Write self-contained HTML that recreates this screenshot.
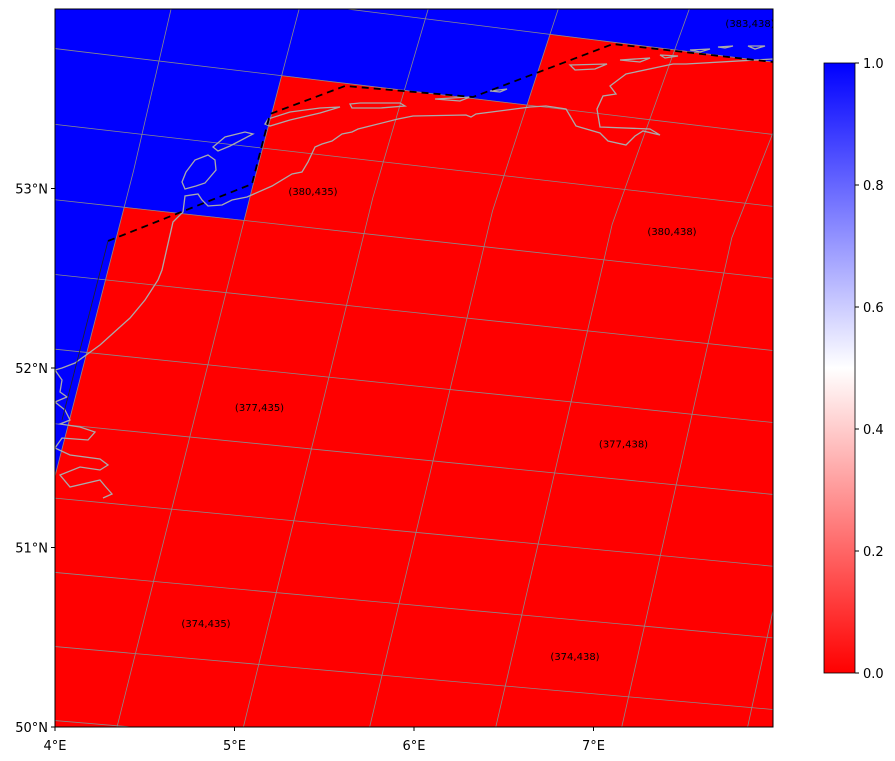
<!DOCTYPE html>
<html><head><meta charset="utf-8"><style>
html,body{margin:0;background:#fff;overflow:hidden;width:895px;height:761px;}
svg{display:block;font-family:"DejaVu Sans","Liberation Sans",sans-serif;}
</style></head><body>
<svg id="chart" width="895" height="761" viewBox="0 0 895 761">
<defs>
<clipPath id="plotclip"><rect x="55" y="9" width="718" height="718"/></clipPath>
<linearGradient id="cbgrad" x1="0" y1="1" x2="0" y2="0">
<stop offset="0" stop-color="#ff0000"/><stop offset="0.5" stop-color="#ffffff"/><stop offset="1" stop-color="#0000ff"/>
</linearGradient>
</defs>
<g id="plot" clip-path="url(#plotclip)">
<g id="cells"></g>
<g id="gridlines"></g>
<g id="coast" fill="none" stroke="#aaaaaa" stroke-width="1.3">
<path d="M55,370 L62,368 L75,363 L100,345 L130,318 L145,300 L158,280 L162,270 L167,248 L173,222 L183,212 L185,196 L198,194 L202,200 L208,206 L222,205 L232,200 L247,197 L272,186 L292,174 L302,172 L308,162 L315,147 L322,144 L332,141 L342,134 L352,132 L358,129 L398,119 L413,116 L466,115 L471,117 L476,114 L530,107 L546,106 L566,109 L576,126 L600,133 L608,141 L626,145 L635,136 L643,131 L660,135 L650,129 L600,127 L597,109 L603,96 L616,94 L610,86 L626,74 L673,64 L686,64 L773,59"/>
<path d="M55,370 L62,380 L60,392 L67,397 L55,402 L65,410 L70,420 L60,424 L80,427 L95,432 L88,440 L62,438 L55,448 L70,455 L100,459 L108,465 L100,470 L80,467 L60,475 L70,487 L100,480 L105,486 L112,494 L103,498"/>
<path d="M186,172 L195,160 L208,155 L215,160 L216,170 L205,183 L196,186 L185,189 L182,182 Z"/>
<path d="M213,147 L225,137 L245,132 L253,134 L230,146 L218,151 Z"/>
<path d="M265,124 L268,119 L290,112 L320,108 L340,107 L320,113 L290,120 L270,126 Z"/>
<path d="M350,104 L360,103 L400,103 L405,106 L380,108 L352,108 Z"/>
<path d="M435,99 L470,97 L460,101 Z M490,91 L507,89 L500,92 Z M570,65 L607,64 L595,69 L575,70 Z M620,60 L650,58 L640,62 Z M660,55 L678,56 L665,58 Z M690,50 L710,49 L700,52 Z M718,47 L733,46 L725,48 Z M748,46 L765,46 L755,49 Z"/>
</g>
<polyline points="108,241 252,184 270,114 345,86 473,97 613,44 773,62" fill="none" stroke="#000" stroke-width="1.8" stroke-dasharray="7,5"/>
<polyline points="108,241 62,420" fill="none" stroke="#222" stroke-width="0.8"/>
<g id="celllabels" font-size="10" fill="#000" text-anchor="middle"></g>
</g>
<rect x="55" y="9" width="718" height="718" fill="none" stroke="#000" stroke-width="1"/>
<g id="axes" font-size="13" fill="#000"></g>
<g>
<rect x="824" y="63" width="31" height="610" fill="url(#cbgrad)" stroke="#000" stroke-width="0.8"/>
<g id="cbticks" font-size="13"></g>
</g>
</svg>
<script>
const rows = [386,385,384,383,382,381,380,379,378,377,376,375,374,373,372,371,370,369,368];
const cols = [430,431,432,433,434,435,436,437,438,439,440,441,442];
const values = [
[1,1,1,1,1,1,1,1,1,1,1,1,1],
[1,1,1,1,1,1,1,1,1,1,1,1,1],
[1,1,1,1,1,1,1,1,1,1,1,1,1],
[1,1,1,1,1,1,1,1,1,1,1,1,1],
[1,1,1,1,1,1,1,0,0,0,0,0,0],
[1,1,1,1,1,0,0,0,0,0,0,0,0],
[1,1,1,1,1,0,0,0,0,0,0,0,0],
[1,1,1,1,0,0,0,0,0,0,0,0,0],
[1,1,1,1,0,0,0,0,0,0,0,0,0],
[1,1,1,1,0,0,0,0,0,0,0,0,0],
[1,1,1,1,0,0,0,0,0,0,0,0,0],
[1,1,1,1,0,0,0,0,0,0,0,0,0],
[1,1,1,1,0,0,0,0,0,0,0,0,0],
[1,1,1,1,0,0,0,0,0,0,0,0,0],
[1,1,1,1,0,0,0,0,0,0,0,0,0],
[1,1,1,1,0,0,0,0,0,0,0,0,0],
[1,1,1,1,0,0,0,0,0,0,0,0,0],
[1,1,1,1,0,0,0,0,0,0,0,0,0],
[1,1,1,1,0,0,0,0,0,0,0,0,0]
];
const labelCells = [[380,435],[380,438],[377,435],[377,438],[374,435],[374,438],[383,438]];
const lonTicks = [4,5,6,7];
const latTicks = [50,51,52,53];
const cbTicks = [0,0.2,0.4,0.6,0.8,1.0];

const NS='http://www.w3.org/2000/svg';
// piecewise bilinear lattice mapping (row, col) -> pixels, anchored on cell centres
const A=[313,191],B=[672,231],C=[206,623],D=[575,656],C2=[373,-25],D2=[750,23];
function P(r,c){
  const s=(c-435)/3;
  if(r>380){
    const t=(r-380)/3;
    return [0,1].map(k=>A[k]+s*(B[k]-A[k])+t*(C2[k]-A[k])+s*t*(A[k]-B[k]-C2[k]+D2[k]));
  }
  const t=(380-r)/6;
  return [0,1].map(k=>A[k]+s*(B[k]-A[k])+t*(C[k]-A[k])+s*t*(A[k]-B[k]-C[k]+D[k]));
}
function lonX(lon){return 55+(lon-4)*179.5;}
function latY(lat){return 727-(lat-50)*179.5;}
function cbY(v){return 673-v*610;}
function color(v){
  if(v<=0.5){const t=v/0.5;const g=Math.round(255*t);return `rgb(255,${g},${g})`;}
  const t=(v-0.5)/0.5;const g=Math.round(255*(1-t));return `rgb(${g},${g},255)`;
}
const cellG=document.getElementById('cells');
rows.forEach((r,i)=>cols.forEach((c,j)=>{
  const pts=[P(r-0.5,c-0.5),P(r-0.5,c+0.5),P(r+0.5,c+0.5),P(r+0.5,c-0.5)];
  const p=document.createElementNS(NS,'polygon');
  p.setAttribute('points',pts.map(q=>q.join(',')).join(' '));
  p.setAttribute('fill',color(values[i][j]));
  p.setAttribute('stroke',color(values[i][j]));
  p.setAttribute('stroke-width','0.6');
  
  
  cellG.appendChild(p);
}));
const gl=document.getElementById('gridlines');
const rmin=Math.min(...rows),rmax=Math.max(...rows),cmin=Math.min(...cols),cmax=Math.max(...cols);
function line(pts,name){
  const l=document.createElementNS(NS,'polyline');
  l.setAttribute('points',pts.map(q=>q.join(',')).join(' '));
  l.setAttribute('fill','none');
  l.setAttribute('stroke','#8a8a8a');l.setAttribute('stroke-width','0.8');
  
  
  gl.appendChild(l);
}
for(let r=rmin-0.5;r<=rmax+0.5;r++) line([P(r,cmin-0.5),P(r,cmax+0.5)],'gridline-row');
for(let c=cmin-0.5;c<=cmax+0.5;c++) line([P(rmin-0.5,c),P(380,c),P(rmax+0.5,c)],'gridline-col');
const lg=document.getElementById('celllabels');
labelCells.forEach(([r,c])=>{
  const q=P(r,c);
  const t=document.createElementNS(NS,'text');
  t.setAttribute('x',q[0]);t.setAttribute('y',q[1]+4);
  t.textContent='('+r+','+c+')';
  
  
  lg.appendChild(t);
});
const ax=document.getElementById('axes');
lonTicks.forEach(v=>{
  const x=lonX(v);
  const tk=document.createElementNS(NS,'line');
  tk.setAttribute('x1',x);tk.setAttribute('x2',x);tk.setAttribute('y1',727);tk.setAttribute('y2',731);tk.setAttribute('stroke','#000');
  
  
  ax.appendChild(tk);
  const t=document.createElementNS(NS,'text');
  t.setAttribute('x',x);t.setAttribute('y',750);t.setAttribute('text-anchor','middle');
  t.textContent=v+'°E';
  
  
  ax.appendChild(t);
});
latTicks.forEach(v=>{
  const y=latY(v);
  const tk=document.createElementNS(NS,'line');
  tk.setAttribute('x1',51);tk.setAttribute('x2',55);tk.setAttribute('y1',y);tk.setAttribute('y2',y);tk.setAttribute('stroke','#000');
  
  
  ax.appendChild(tk);
  const t=document.createElementNS(NS,'text');
  t.setAttribute('x',48);t.setAttribute('y',y+5);t.setAttribute('text-anchor','end');
  t.textContent=v+'°N';
  
  
  ax.appendChild(t);
});
const cb=document.getElementById('cbticks');
cbTicks.forEach(v=>{
  const y=cbY(v);
  const tk=document.createElementNS(NS,'line');
  tk.setAttribute('x1',855);tk.setAttribute('x2',859);tk.setAttribute('y1',y);tk.setAttribute('y2',y);tk.setAttribute('stroke','#000');
  
  
  cb.appendChild(tk);
  const t=document.createElementNS(NS,'text');
  t.setAttribute('x',863);t.setAttribute('y',y+5);
  t.textContent=v.toFixed(1);
  
  
  cb.appendChild(t);
});
</script>
</body></html>
